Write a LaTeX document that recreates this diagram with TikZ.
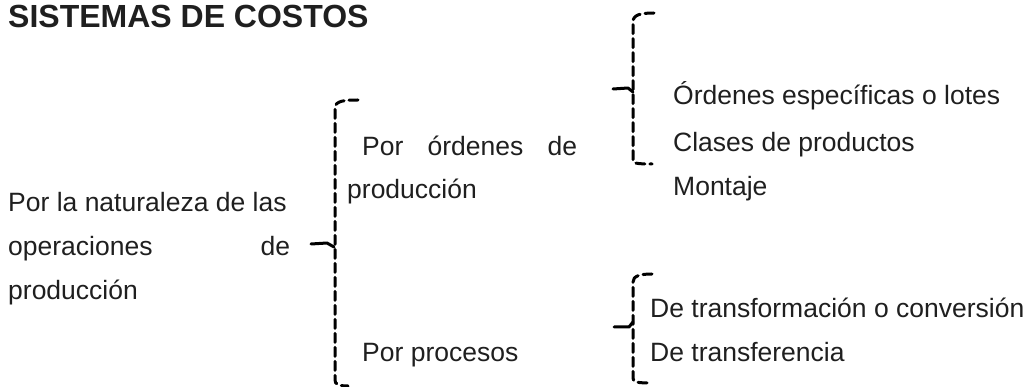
\documentclass[tikz,border=0pt]{standalone}
\usepackage{fontspec}
\setmainfont{Liberation Sans}
\tikzset{
  txt/.style={anchor=base west, inner sep=0pt, text=black!88},
  bracedash/.style={line width=3pt, dash pattern=on 9pt off 5pt, line cap=round},
  bracetip/.style={line width=3pt, line cap=round, line join=round}
}
\begin{document}
\begin{tikzpicture}[x=1pt, y=-1pt]
                    \def\body{\fontsize{26.5}{44}\selectfont}
                    \useasboundingbox (0,0) rectangle (1029,387);
                    \node[txt] (title) at (8,28) {\fontsize{32}{38}\selectfont\bfseries SISTEMAS DE COSTOS};
                    \node[txt] (nat1) at (8,212) {\body Por la naturaleza de las};
                    \node[txt] (nat2) at (8,256) {\body\makebox[282pt][s]{operaciones de}};
                    \node[txt] (nat3) at (8,300) {\body producción};
                    \node[txt] (ord1) at (362,156) {\body\makebox[215pt][s]{Por órdenes de}};
                    \node[txt] (ord2) at (347,199) {\body producción};
                    \node[txt] (proc) at (362,362) {\body Por procesos};
                    \node[txt] (esp)  at (673,105) {\body Órdenes específicas o lotes};
                    \node[txt] (clas) at (673,152) {\body Clases de productos};
                    \node[txt] (mont) at (673,196) {\body Montaje};
                    \node[txt] (trf)  at (650,318) {\body De transformación o conversión};
                    \node[txt] (tra)  at (650,362) {\body De transferencia};
                    \coordinate (tipA) at (311,244);
                    \coordinate (tipB) at (613,89);
                    \coordinate (tipC) at (614,327);
                    \draw[bracedash] (358,100) .. controls (344,100) and (335,101) .. (335,108) -- (335,380) .. controls (335,384) and (338,386) .. (348,386);
                    \draw[bracetip] (tipA) -- (327,243) -- (334,247);
                    \draw[bracedash] (654,13) .. controls (640,13) and (633,15) .. (633,22) -- (633,160) .. controls (633,163) and (635,164) .. (652,164);
                    \draw[bracetip] (tipB) -- (628,88) -- (633,92);
                    \draw[bracedash] (652,274) .. controls (640,274) and (633,276) .. (633,282) -- (633,378) .. controls (633,382) and (636,383) .. (652,383);
                    \draw[bracetip] (tipC) -- (629,327) -- (633,322);
\end{tikzpicture}
\end{document}
